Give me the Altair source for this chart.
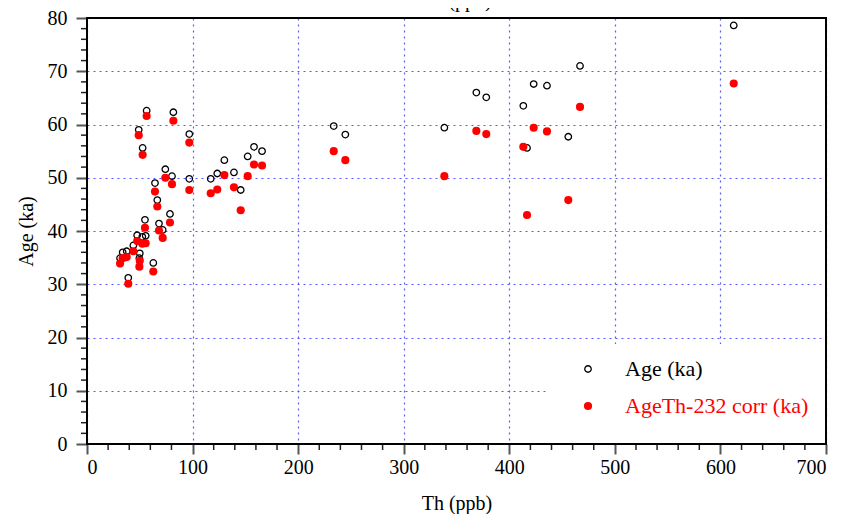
import altair as alt
import pandas as pd

# ---- data ----
th = [31.3, 33.8, 37.6, 39.1, 43.9, 47.5, 50.0, 49.6, 52.4, 55.6, 54.9, 62.8,
      68.2, 71.7, 78.6, 56.5, 81.8, 49.0, 96.9, 52.7, 74.2, 80.5, 96.9, 64.4,
      66.6, 117.2, 123.4, 130.1, 139.2, 145.6, 152.2, 158.2, 165.8, 233.7,
      244.7, 338.5, 368.8, 378.2, 413.3, 416.8, 423.1, 435.7, 455.9, 467.0, 612.6]
age = [34.9, 36.0, 36.2, 31.2, 37.3, 39.2, 35.8, 34.9, 38.9, 39.1, 42.1, 34.0,
       41.4, 40.2, 43.2, 62.6, 62.3, 59.0, 58.2, 55.6, 51.6, 50.3, 49.8, 49.0,
       45.8, 49.8, 50.8, 53.3, 51.0, 47.7, 54.0, 55.8, 55.0, 59.7,
       58.1, 59.4, 66.0, 65.1, 63.5, 55.6, 67.6, 67.3, 57.7, 71.0, 78.6]
age_corr = [33.9, 34.9, 35.1, 30.1, 36.2, 38.1, 34.4, 33.3, 37.6, 37.7, 40.6, 32.4,
            40.1, 38.7, 41.6, 61.6, 60.7, 58.0, 56.6, 54.3, 50.0, 48.8, 47.7, 47.4,
            44.6, 47.1, 47.8, 50.5, 48.2, 43.9, 50.3, 52.5, 52.3, 55.0,
            53.3, 50.3, 58.8, 58.2, 55.8, 43.0, 59.4, 58.7, 45.8, 63.3, 67.7]

x_major = [0, 100, 200, 300, 400, 500, 600, 700]
y_major = [0, 10, 20, 30, 40, 50, 60, 70, 80]
x_minor = [v for v in range(0, 701, 20) if v % 100 != 0]
y_minor = [v for v in range(0, 81, 2) if v % 10 != 0]
legend_labels = ["Age (ka)", "AgeTh-232 corr (ka)"]
x_title = "Th (ppb)"
y_title = "Age (ka)"

# ---- layout ----
W, H = 739, 426
FONT = "Liberation Serif"

df = pd.DataFrame({"th": th, "age": age, "corr": age_corr})
xs = alt.Scale(domain=[0, 700], nice=False, zero=False)
ys = alt.Scale(domain=[0, 80], nice=False, zero=False)

x_axis = alt.Axis(values=x_major, title=x_title, grid=True, domain=False,
                  tickSize=10, tickWidth=2, tickColor="#555555",
                  labelFont=FONT, labelFontSize=20, labelColor="black", labelPadding=3,
                  titleFont=FONT, titleFontSize=20, titleFontWeight="normal",
                  titleColor="black", titlePadding=16, format="d")
y_axis = alt.Axis(values=y_major, title=y_title, grid=True, domain=False,
                  tickSize=11, tickWidth=2, tickColor="#555555",
                  labelFont=FONT, labelFontSize=20, labelColor="black", labelPadding=9,
                  titleFont=FONT, titleFontSize=20, titleFontWeight="normal",
                  titleColor="black", titlePadding=11, format="d")

X = alt.X("th:Q", scale=xs, axis=x_axis)

open_pts = alt.Chart(df).mark_point(shape="circle", filled=False, color="black",
                                    strokeWidth=1.3, size=42, opacity=1).encode(
    x=X, y=alt.Y("age:Q", scale=ys, axis=y_axis))
red_pts = alt.Chart(df).mark_circle(color="#ff0000", size=66, opacity=1).encode(
    x=X, y=alt.Y("corr:Q", scale=ys, axis=y_axis))

xm = pd.DataFrame({"v": x_minor})
ym = pd.DataFrame({"v": y_minor})
x_minor_ticks = alt.Chart(xm).mark_rule(color="#222222", strokeWidth=1.5).encode(
    x=alt.X("v:Q", scale=xs, axis=x_axis), y=alt.value(H), y2=alt.value(H + 6))
y_minor_ticks = alt.Chart(ym).mark_rule(color="#222222", strokeWidth=1.5).encode(
    y=alt.Y("v:Q", scale=ys, axis=y_axis), x=alt.value(-6), x2=alt.value(0))

one = pd.DataFrame({"a": [0]})
legend_box = alt.Chart(one).mark_rect(fill="white", stroke=None).encode(
    x=alt.value(461), x2=alt.value(W), y=alt.value(326), y2=alt.value(H - 1))
frame = alt.Chart(one).mark_rect(fill="white", fillOpacity=0, stroke="black",
                                 strokeWidth=2).encode(
    x=alt.value(0), x2=alt.value(W), y=alt.value(0), y2=alt.value(H))

leg_open = alt.Chart(one).mark_point(shape="circle", filled=False, color="black",
                                     strokeWidth=1.3, size=42, opacity=1).encode(
    x=alt.value(501), y=alt.value(351))
leg_red = alt.Chart(one).mark_circle(color="#ff0000", size=66, opacity=1).encode(
    x=alt.value(501), y=alt.value(388))
ld1 = pd.DataFrame({"t": [legend_labels[0]]})
ld2 = pd.DataFrame({"t": [legend_labels[1]]})
leg_t1 = alt.Chart(ld1).mark_text(align="left", baseline="middle", font=FONT,
                                  fontSize=22, color="black").encode(
    text="t:N", x=alt.value(538), y=alt.value(351))
leg_t2 = alt.Chart(ld2).mark_text(align="left", baseline="middle", font=FONT,
                                  fontSize=22, color="#ff0000").encode(
    text="t:N", x=alt.value(538), y=alt.value(388))

top_title = alt.Chart(pd.DataFrame({"t": [x_title]})).mark_text(
    align="center", baseline="alphabetic", font=FONT, fontSize=20, color="black").encode(
    text="t:N", x=alt.value(W / 2), y=alt.value(-11))

chart = alt.layer(
    open_pts, red_pts, x_minor_ticks, y_minor_ticks, legend_box,
    leg_open, leg_red, leg_t1, leg_t2, frame, top_title
).properties(
    width=W, height=H,
    autosize=alt.AutoSizeParams(type="none"),
    padding={"left": 79, "top": 10, "right": 9, "bottom": 70},
    background="white",
).configure_view(stroke=None).configure_axis(
    gridColor="#4848ff", gridDash=[2, 4], gridWidth=1.2, gridOpacity=0.9,
    labelFont=FONT, titleFont=FONT
)

chart.save("out.html", embed_options={"renderer": "svg", "actions": False})
